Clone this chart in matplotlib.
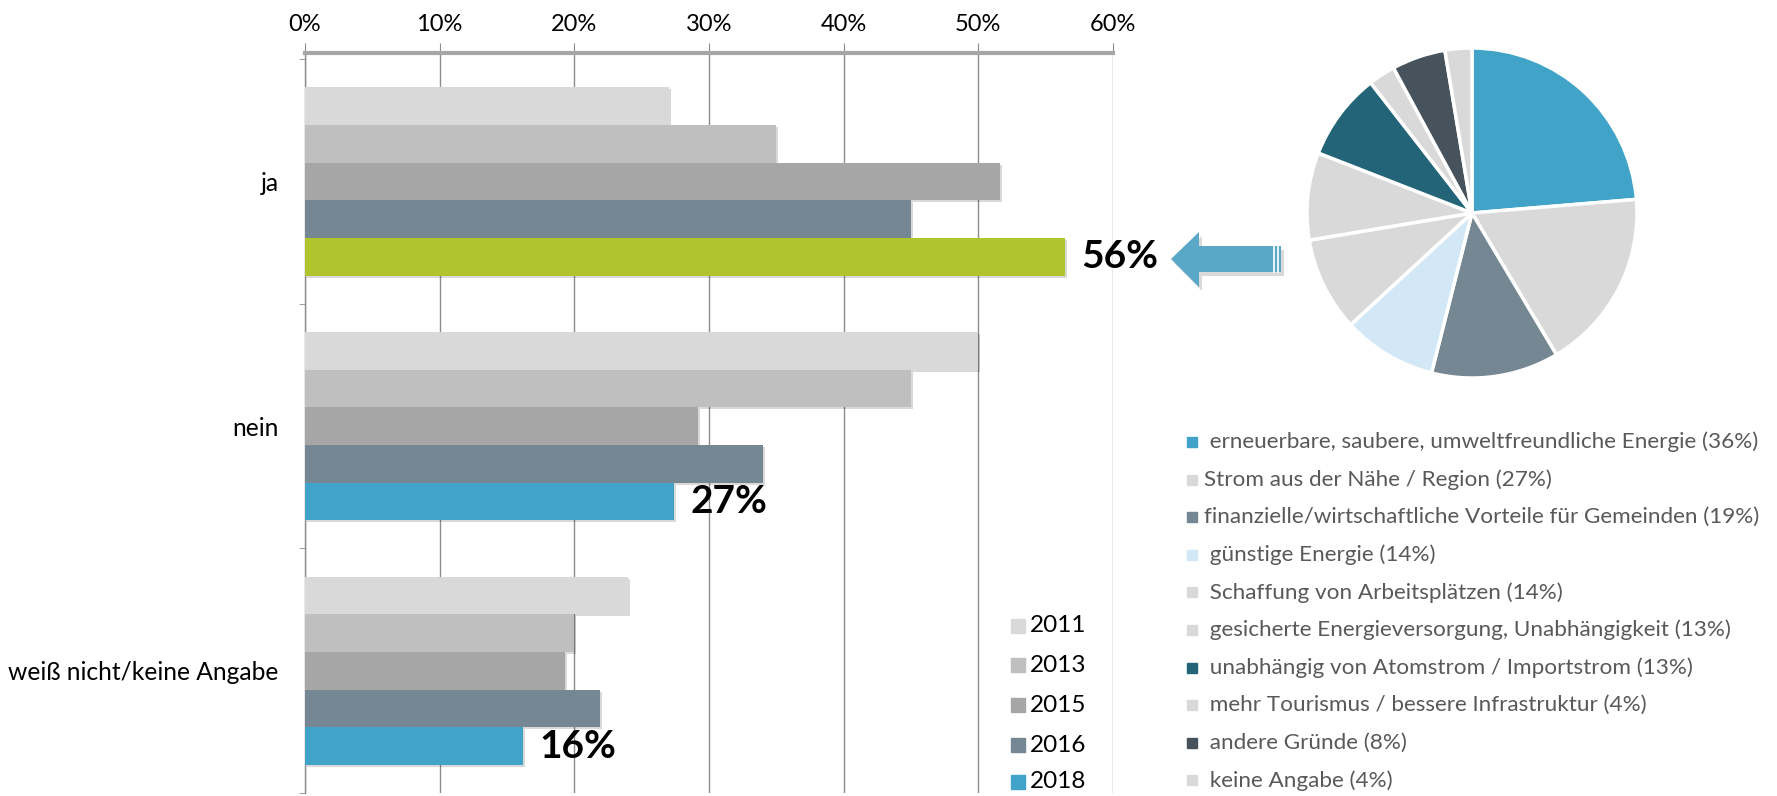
import matplotlib
matplotlib.use('Agg')
import matplotlib.pyplot as plt
import numpy as np
from matplotlib.patches import Rectangle, Polygon
import matplotlib.patheffects as pe

plt.rcParams['font.family'] = ['Lato', 'DejaVu Sans']

# ---------------- data ----------------
categories = ['ja', 'nein', 'weiß nicht/keine Angabe']
years = ['2011', '2013', '2015', '2016', '2018']
values_2011 = [27.0, 50.0, 24.0]
values_2013 = [35.0, 45.0, 20.0]
values_2015 = [51.6, 29.2, 19.3]
values_2016 = [45.0, 34.0, 21.9]
values_2018 = [56.4, 27.4, 16.2]
xticks = [0, 10, 20, 30, 40, 50, 60]

pie_labels = [
    ' erneuerbare, saubere, umweltfreundliche Energie (36%)',
    'Strom aus der Nähe / Region (27%)',
    'finanzielle/wirtschaftliche Vorteile für Gemeinden (19%)',
    ' günstige Energie (14%)',
    ' Schaffung von Arbeitsplätzen (14%)',
    ' gesicherte Energieversorgung, Unabhängigkeit (13%)',
    ' unabhängig von Atomstrom / Importstrom (13%)',
    ' mehr Tourismus / bessere Infrastruktur (4%)',
    ' andere Gründe (8%)',
    ' keine Angabe (4%)',
]
pie_values = [36, 27, 19, 14, 14, 13, 13, 4, 8, 4]

# ---------------- styles ----------------
year_colors = ['#d9d9d9', '#bfbfbf', '#a6a6a6', '#758792', '#41a3c8']
highlight = '#afc42d'
pie_colors = ['#41a3c8', '#d9d9d9', '#758792', '#d3e8f6', '#d9d9d9',
              '#d9d9d9', '#236479', '#d9d9d9', '#46535c', '#d9d9d9']
grid_col = '#8c8c8c'

W, H = 1777, 796
fig = plt.figure(figsize=(W / 100, H / 100), dpi=100)

def fx(px):
    return px / W

def fy(py):
    return 1 - py / H

# ---------------- bar chart ----------------
ax = fig.add_axes([fx(305), fy(793), 808 / W, 740 / H])
series = [values_2011, values_2013, values_2015, values_2016, values_2018]
n = len(years)
h = 0.154
ypos = np.arange(len(categories))
for i, (yr, vals, col) in enumerate(zip(years, series, year_colors)):
    off = (i - (n - 1) / 2) * h
    cols = [col] * len(categories)
    if yr == '2018':
        cols[0] = highlight
    bars = ax.barh(ypos + off, vals, height=h, color=cols, zorder=3, label=yr)
    for b in bars:
        b.set_path_effects([pe.SimplePatchShadow(offset=(1.5, -1.5), alpha=0.15,
                                                 shadow_rgbFace='k'), pe.Normal()])
    if yr == '2018':
        for yi, v in zip(ypos, vals):
            ax.annotate(f"{v:.0f}%", xy=(v, yi + off), xytext=(12, 0),
                        textcoords='offset points', va='center', ha='left',
                        fontsize=28, fontweight='bold', color='black', zorder=5)

ax.set_xlim(0, 60)
ax.set_ylim(len(categories) - 0.5, -0.525)
ax.xaxis.tick_top()
ax.set_xticks(xticks)
ax.set_xticklabels([f"{t}%" for t in xticks])
ax.grid(axis='x', color=grid_col, lw=1)
ax.set_axisbelow(True)
ax.tick_params(axis='x', which='major', length=7, color=grid_col, pad=6,
               labelsize=17, top=True, bottom=False)
ax.set_yticks(ypos)
ax.set_yticklabels(categories)
ax.tick_params(axis='y', which='major', length=0, pad=19, labelsize=17.75)
ax.set_yticks(np.arange(len(categories) + 1) - 0.5, minor=True)
ax.tick_params(axis='y', which='minor', length=4, color=grid_col)
for s in ['right', 'bottom']:
    ax.spines[s].set_visible(False)
ax.spines['top'].set_color('#a6a6a6')
ax.spines['top'].set_linewidth(3)
ax.spines['left'].set_color(grid_col)
ax.spines['left'].set_linewidth(1)

# year legend (manual)
leg_rows = [626, 665, 705, 745, 782]
for yr, col, yy in zip(years, year_colors, leg_rows):
    fig.patches.append(Rectangle((fx(1011), fy(yy + 7)), 14 / W, 14 / H,
                                 transform=fig.transFigure, color=col))
    fig.text(fx(1030), fy(yy), yr, va='center', ha='left', fontsize=17.5,
             color='black')

# ---------------- arrow ----------------
arrow_px = [(1171, 259), (1199, 232), (1199, 246), (1281, 246), (1281, 272),
            (1199, 272), (1199, 287)]
shadow = Polygon([(fx(x + 3), fy(y + 4)) for x, y in arrow_px], closed=True,
                 transform=fig.transFigure, color='#000000', alpha=0.15, lw=0)
fig.patches.append(shadow)
arrow = Polygon([(fx(x), fy(y)) for x, y in arrow_px], closed=True,
                transform=fig.transFigure, color='#5aa8c7', lw=0)
fig.patches.append(arrow)
for xs in [1274, 1278]:
    fig.lines.append(plt.Line2D([fx(xs), fx(xs)], [fy(246), fy(272)],
                                transform=fig.transFigure, color='white', lw=1.2))

# ---------------- pie ----------------
cx, cy, r = 1472, 213, 165
pax = fig.add_axes([fx(cx - r), fy(cy + r), 2 * r / W, 2 * r / H])
wedges, _ = pax.pie(pie_values, colors=pie_colors, startangle=90,
                    counterclock=False,
                    wedgeprops=dict(edgecolor='white', linewidth=2.5))
pax.set_xlim(-1.0, 1.0)
pax.set_ylim(-1.0, 1.0)
pax.set_aspect('equal')

# pie legend (manual)
for i, (lab, col) in enumerate(zip(pie_labels, pie_colors)):
    yy = 442 + i * 37.6
    fig.patches.append(Rectangle((fx(1187), fy(yy + 5)), 10 / W, 10 / H,
                                 transform=fig.transFigure, color=col))
    fig.text(fx(1204), fy(yy), lab, va='center', ha='left', fontsize=16.2,
             color='#595959')

fig.savefig('out.png', dpi=100)
